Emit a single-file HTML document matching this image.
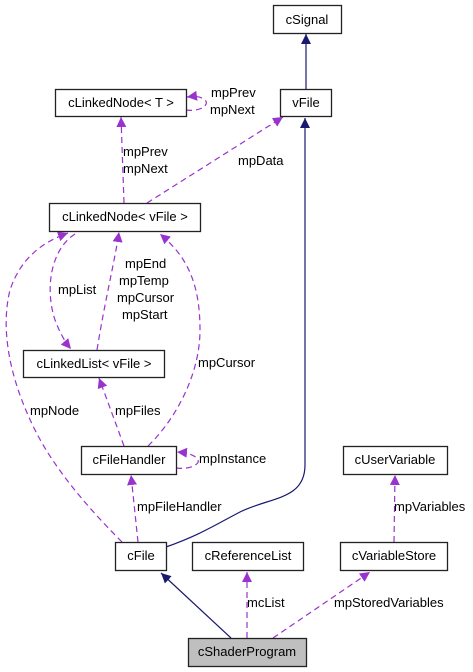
<!DOCTYPE html>
<html><head><meta charset="utf-8"><style>
html,body{margin:0;padding:0;background:#fff;width:473px;height:672px;overflow:hidden}
svg text{font-family:"Liberation Sans",sans-serif;font-size:13px;fill:#000}
</style></head><body>
<svg width="473" height="672" viewBox="0 0 473 672" xmlns="http://www.w3.org/2000/svg">
<defs>
<marker id="p" viewBox="0 0 10 10" refX="10" refY="5" markerWidth="10" markerHeight="10" markerUnits="userSpaceOnUse" orient="auto"><path d="M0,0 L10,5 L0,10 z" fill="#9a32cd"/></marker>
<marker id="n" viewBox="0 0 10 10" refX="10" refY="5" markerWidth="10" markerHeight="10" markerUnits="userSpaceOnUse" orient="auto"><path d="M0,0 L10,5 L0,10 z" fill="#191970"/></marker>
</defs>
<g fill="none" stroke-width="1.2">
<path d="M306,89 L306,34" stroke="#191970" marker-end="url(#n)"/>
<path d="M166,547 C200,535 215,525 240,512 C270,497 305,500 305,465 L305,118" stroke="#191970" marker-end="url(#n)"/>
<path d="M231,638 L161,573" stroke="#191970" marker-end="url(#n)"/>
<g stroke="#9a32cd" stroke-dasharray="6,4">
<path d="M186,110 C200,112 210,105 205,100 C200,96 195,96 187,97" marker-end="url(#p)"/>
<path d="M124,203 L121,117" marker-end="url(#p)"/>
<path d="M147,203 L283,117" marker-end="url(#p)"/>
<path d="M97,350 C105,300 115,260 119,232" marker-end="url(#p)"/>
<path d="M75,234 C50,250 45,290 55,320 C60,333 65,342 71,349" marker-end="url(#p)"/>
<path d="M148,446 C175,420 200,375 200,330 C200,280 185,255 160,234" marker-end="url(#p)"/>
<path d="M124,446 L99,378" marker-end="url(#p)"/>
<path d="M122,542 C90,510 55,470 35,430 C10,380 0,330 10,290 C20,260 40,243 68,233" marker-end="url(#p)"/>
<path d="M176,468 C190,470 200,464 198,460 C196,456 190,453 177,452" marker-end="url(#p)"/>
<path d="M138,542 L131,475" marker-end="url(#p)"/>
<path d="M247,638 L247,572" marker-end="url(#p)"/>
<path d="M273,638 L370,572" marker-end="url(#p)"/>
<path d="M394,542 L395,475" marker-end="url(#p)"/>
</g>
</g>
<g stroke="#222" stroke-width="1.3" fill="#fff">
<rect x="273.5" y="5.5" width="68" height="28"/>
<rect x="280.5" y="89.5" width="51" height="27"/>
<rect x="55.5" y="89.5" width="131" height="27"/>
<rect x="49.5" y="203.5" width="151" height="28"/>
<rect x="23.5" y="350.5" width="141" height="27"/>
<rect x="81.5" y="446.5" width="95" height="28"/>
<rect x="343.5" y="446.5" width="104" height="28"/>
<rect x="115.5" y="542.5" width="51" height="28"/>
<rect x="192.5" y="542.5" width="111" height="28"/>
<rect x="340.5" y="542.5" width="107" height="28"/>
<rect x="188.5" y="638.5" width="118" height="28" fill="#bfbfbf"/>
</g>
<g text-anchor="middle">
<text x="307" y="24">cSignal</text>
<text x="306" y="107">vFile</text>
<text x="121" y="107">cLinkedNode&lt; T &gt;</text>
<text x="125" y="221">cLinkedNode&lt; vFile &gt;</text>
<text x="94" y="368">cLinkedList&lt; vFile &gt;</text>
<text x="129" y="464">cFileHandler</text>
<text x="395" y="464">cUserVariable</text>
<text x="141" y="560">cFile</text>
<text x="248" y="560">cReferenceList</text>
<text x="394" y="560">cVariableStore</text>
<text x="247" y="656">cShaderProgram</text>
</g>
<g>
<text x="211" y="97">mpPrev</text>
<text x="210" y="114">mpNext</text>
<text x="123" y="156">mpPrev</text>
<text x="123" y="173">mpNext</text>
<text x="238" y="165">mpData</text>
<text x="125" y="268">mpEnd</text>
<text x="119" y="285">mpTemp</text>
<text x="117" y="302">mpCursor</text>
<text x="122" y="319">mpStart</text>
<text x="58" y="294">mpList</text>
<text x="198" y="367">mpCursor</text>
<text x="30" y="415">mpNode</text>
<text x="115" y="415">mpFiles</text>
<text x="199" y="463">mpInstance</text>
<text x="137" y="511">mpFileHandler</text>
<text x="394" y="511">mpVariables</text>
<text x="247" y="607">mcList</text>
<text x="334" y="607">mpStoredVariables</text>
</g>
</svg>
</body></html>
